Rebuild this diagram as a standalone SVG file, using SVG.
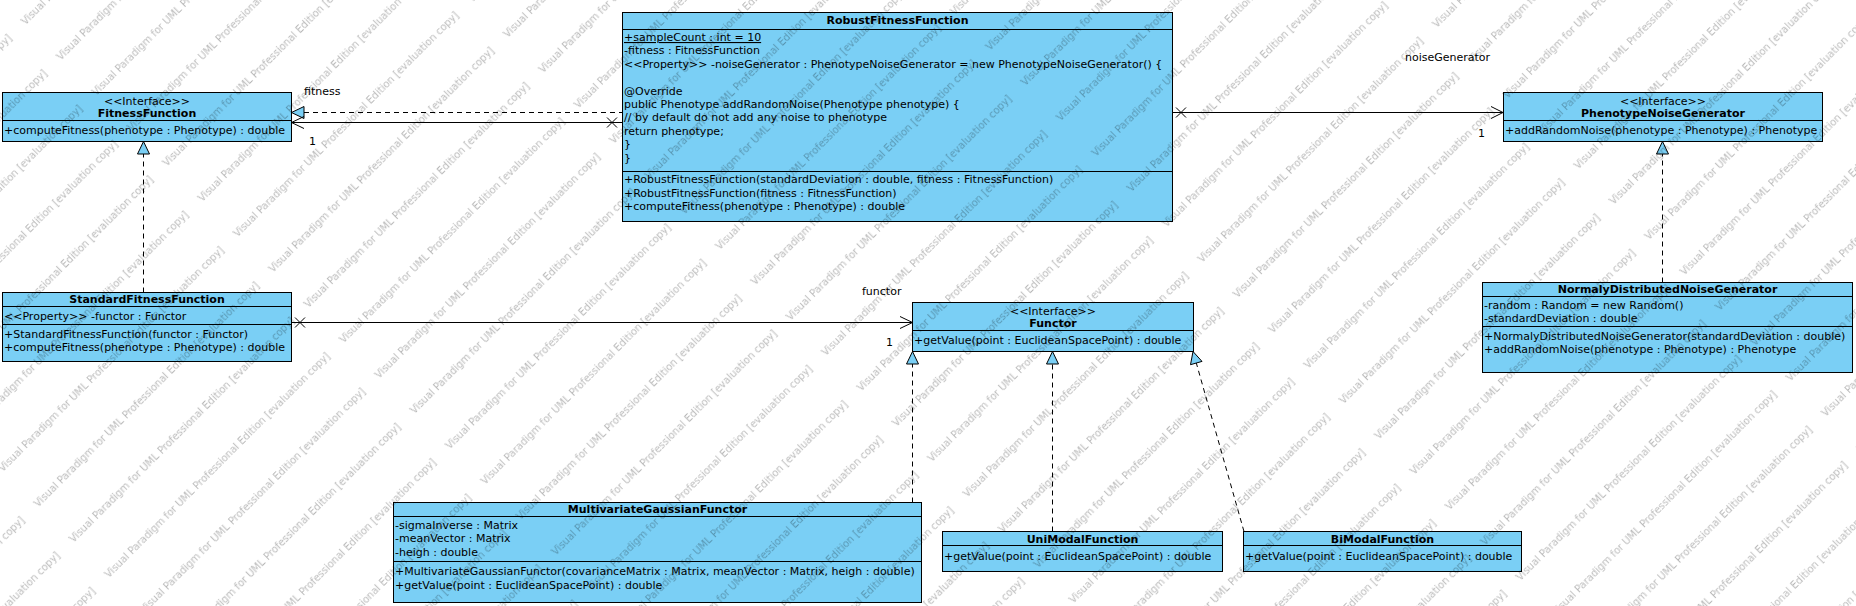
<svg xmlns="http://www.w3.org/2000/svg" width="1856" height="606" viewBox="0 0 1856 606">
<style>
text{font-family:"DejaVu Sans","Liberation Sans",sans-serif;font-size:11px;fill:#000}
.b{font-weight:bold}
.c{text-anchor:middle}
.box{fill:#7ACFF5;stroke:#000;stroke-width:1}
.dv{stroke:#000;stroke-width:1}
.ln{fill:none;stroke:#000;stroke-width:1}
.ds{fill:none;stroke:#000;stroke-width:1;stroke-dasharray:5 4}
.tri{fill:#7ACFF5;stroke:#000;stroke-width:1}
.wm{font-size:10px;fill:#000;fill-opacity:0.28}
</style>
<defs>
<pattern id="wmp" patternUnits="userSpaceOnUse" width="332" height="50" patternTransform="rotate(-45)">
<text class="wm" x="0" y="36">Visual Paradigm for UML Professional Edition [evaluation copy]</text>
</pattern>
</defs>
<rect x="0" y="0" width="1856" height="606" fill="#fff"/>
<g id="connectors">
<line class="ds" x1="304" y1="112.5" x2="622" y2="112.5"/>
<polygon class="tri" points="291.5,112.5 304,106.5 304,118.5"/>
<line class="ln" x1="291.5" y1="122.5" x2="622" y2="122.5"/>
<polyline class="ln" points="304,116.5 291.5,122.5 304,128.5"/>
<path class="ln" d="M607,117.5 L617,127.5 M607,127.5 L617,117.5"/>
<text x="304" y="95">fitness</text>
<text x="309" y="145">1</text>
<line class="ln" x1="1172.5" y1="112.5" x2="1503" y2="112.5"/>
<polyline class="ln" points="1491,106.5 1503,112.5 1491,118.5"/>
<path class="ln" d="M1176,107.5 L1186,117.5 M1176,117.5 L1186,107.5"/>
<text x="1405" y="61">noiseGenerator</text>
<text x="1478" y="137">1</text>
<line class="ln" x1="291.5" y1="322.5" x2="912.5" y2="322.5"/>
<polyline class="ln" points="900,316.5 912.5,322.5 900,328.5"/>
<path class="ln" d="M295,317.5 L305,327.5 M295,327.5 L305,317.5"/>
<text x="862" y="295">functor</text>
<text x="886" y="346">1</text>
<line class="ds" x1="143.5" y1="292.5" x2="143.5" y2="154"/>
<polygon class="tri" points="143.5,141.5 137.5,154 149.5,154"/>
<line class="ds" x1="1662.5" y1="282.5" x2="1662.5" y2="154"/>
<polygon class="tri" points="1662.5,141.5 1656.5,154 1668.5,154"/>
<line class="ds" x1="912.5" y1="502.5" x2="912.5" y2="364"/>
<polygon class="tri" points="912.5,351.5 906.5,364 918.5,364"/>
<line class="ds" x1="1052.5" y1="531.5" x2="1052.5" y2="364"/>
<polygon class="tri" points="1052.5,351.5 1046.5,364 1058.5,364"/>
<line class="ds" x1="1244" y1="531.5" x2="1196.3" y2="363"/>
<polygon class="tri" points="1193,351.5 1190.5,364.7 1202,361.4"/>
</g>
<g id="FitnessFunction">
<rect class="box" x="2.5" y="92.5" width="289" height="49"/>
<line class="dv" x1="2.5" y1="120.5" x2="291.5" y2="120.5"/>
<text class="c" x="147" y="104.5">&lt;&lt;Interface&gt;&gt;</text>
<text class="c b" x="147" y="117">FitnessFunction</text>
<text x="4" y="134">+computeFitness(phenotype : Phenotype) : double</text>
</g>
<g id="RobustFitnessFunction">
<rect class="box" x="622.5" y="12.5" width="550" height="209"/>
<line class="dv" x1="622.5" y1="29.5" x2="1172.5" y2="29.5"/>
<line class="dv" x1="622.5" y1="171.5" x2="1172.5" y2="171.5"/>
<text class="c b" x="897.5" y="24">RobustFitnessFunction</text>
<text x="624" y="41" text-decoration="underline">+sampleCount : int = 10</text>
<text x="624" y="54.4">-fitness : FitnessFunction</text>
<text x="624" y="67.8">&lt;&lt;Property&gt;&gt; -noiseGenerator : PhenotypeNoiseGenerator = new PhenotypeNoiseGenerator() {</text>
<text x="624" y="94.6">@Override</text>
<text x="624" y="108">public Phenotype addRandomNoise(Phenotype phenotype) {</text>
<text x="624" y="121.4">// by default do not add any noise to phenotype</text>
<text x="624" y="134.8">return phenotype;</text>
<text x="624" y="148.2">}</text>
<text x="624" y="161.6">}</text>
<text x="624" y="183">+RobustFitnessFunction(standardDeviation : double, fitness : FitnessFunction)</text>
<text x="624" y="196.5">+RobustFitnessFunction(fitness : FitnessFunction)</text>
<text x="624" y="210">+computeFitness(phenotype : Phenotype) : double</text>
</g>
<g id="PhenotypeNoiseGenerator">
<rect class="box" x="1503.5" y="92.5" width="319" height="49"/>
<line class="dv" x1="1503.5" y1="120.5" x2="1822.5" y2="120.5"/>
<text class="c" x="1663" y="104.5">&lt;&lt;Interface&gt;&gt;</text>
<text class="c b" x="1663" y="117">PhenotypeNoiseGenerator</text>
<text x="1505" y="134">+addRandomNoise(phenotype : Phenotype) : Phenotype</text>
</g>
<g id="StandardFitnessFunction">
<rect class="box" x="2.5" y="292.5" width="289" height="69"/>
<line class="dv" x1="2.5" y1="306.5" x2="291.5" y2="306.5"/>
<line class="dv" x1="2.5" y1="324.5" x2="291.5" y2="324.5"/>
<text class="c b" x="147" y="303">StandardFitnessFunction</text>
<text x="4" y="319.5">&lt;&lt;Property&gt;&gt; -functor : Functor</text>
<text x="4" y="337.5">+StandardFitnessFunction(functor : Functor)</text>
<text x="4" y="351">+computeFitness(phenotype : Phenotype) : double</text>
</g>
<g id="Functor">
<rect class="box" x="912.5" y="302.5" width="281" height="49"/>
<line class="dv" x1="912.5" y1="330.5" x2="1193.5" y2="330.5"/>
<text class="c" x="1053" y="314.5">&lt;&lt;Interface&gt;&gt;</text>
<text class="c b" x="1053" y="327">Functor</text>
<text x="914" y="344">+getValue(point : EuclideanSpacePoint) : double</text>
</g>
<g id="NormalyDistributedNoiseGenerator">
<rect class="box" x="1482.5" y="282.5" width="370" height="90"/>
<line class="dv" x1="1482.5" y1="296.5" x2="1852.5" y2="296.5"/>
<line class="dv" x1="1482.5" y1="326.5" x2="1852.5" y2="326.5"/>
<text class="c b" x="1667.5" y="293">NormalyDistributedNoiseGenerator</text>
<text x="1484" y="308.5">-random : Random = new Random()</text>
<text x="1484" y="322">-standardDeviation : double</text>
<text x="1484" y="339.5">+NormalyDistributedNoiseGenerator(standardDeviation : double)</text>
<text x="1484" y="353">+addRandomNoise(phenotype : Phenotype) : Phenotype</text>
</g>
<g id="MultivariateGaussianFunctor">
<rect class="box" x="393.5" y="502.5" width="528" height="100"/>
<line class="dv" x1="393.5" y1="516.5" x2="921.5" y2="516.5"/>
<line class="dv" x1="393.5" y1="561.5" x2="921.5" y2="561.5"/>
<text class="c b" x="657.5" y="513">MultivariateGaussianFunctor</text>
<text x="395" y="528.5">-sigmaInverse : Matrix</text>
<text x="395" y="542">-meanVector : Matrix</text>
<text x="395" y="555.5">-heigh : double</text>
<text x="395" y="575">+MultivariateGaussianFunctor(covarianceMatrix : Matrix, meanVector : Matrix, heigh : double)</text>
<text x="395" y="588.5">+getValue(point : EuclideanSpacePoint) : double</text>
</g>
<g id="UniModalFunction">
<rect class="box" x="942.5" y="531.5" width="280" height="40"/>
<line class="dv" x1="942.5" y1="545.5" x2="1222.5" y2="545.5"/>
<text class="c b" x="1082.5" y="542.5">UniModalFunction</text>
<text x="944" y="559.5">+getValue(point : EuclideanSpacePoint) : double</text>
</g>
<g id="BiModalFunction">
<rect class="box" x="1243.5" y="531.5" width="278" height="40"/>
<line class="dv" x1="1243.5" y1="545.5" x2="1521.5" y2="545.5"/>
<text class="c b" x="1382.5" y="542.5">BiModalFunction</text>
<text x="1245" y="559.5">+getValue(point : EuclideanSpacePoint) : double</text>
</g>
<g id="watermark">
<rect x="0" y="0" width="1856" height="606" fill="url(#wmp)"/>
</g>
</svg>
